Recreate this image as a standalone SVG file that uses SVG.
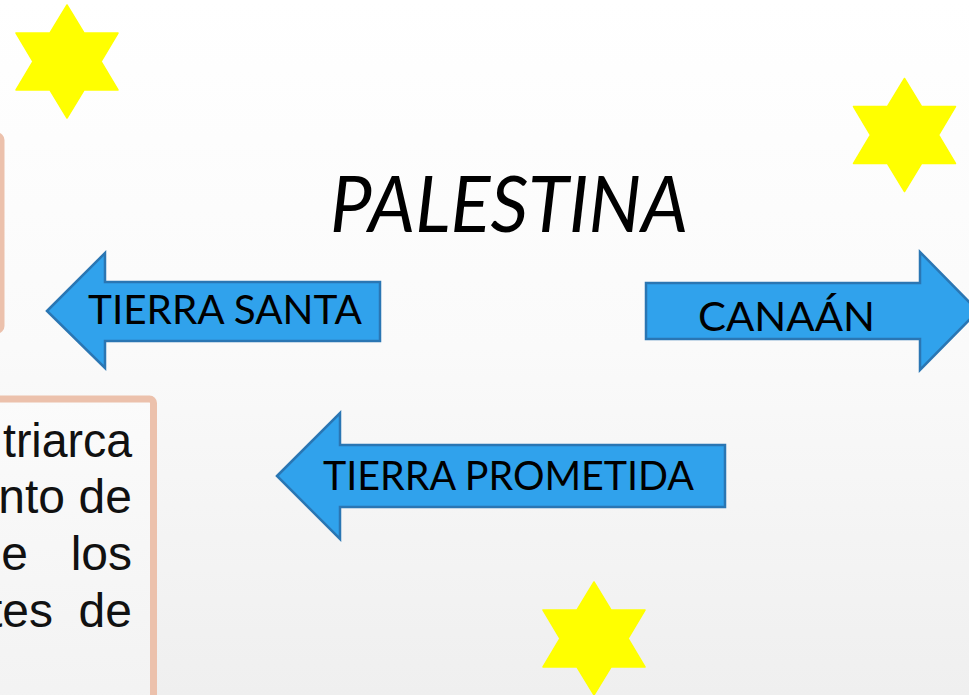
<svg xmlns="http://www.w3.org/2000/svg" width="969" height="695" viewBox="0 0 969 695">
  <defs>
    <linearGradient id="bg" x1="0" y1="0" x2="0" y2="1">
      <stop offset="0" stop-color="#ffffff"/>
      <stop offset="0.5" stop-color="#fafafa"/>
      <stop offset="1" stop-color="#efefef"/>
    </linearGradient>
    <linearGradient id="boxfill" x1="0" y1="0" x2="0" y2="1">
      <stop offset="0" stop-color="#fbfbfb"/>
      <stop offset="1" stop-color="#f0f0f0"/>
    </linearGradient>
    <polygon id="star" points="0,-56.5 17,-28.5 51,-28.5 34,0 51,28.5 17,28.5 0,56.5 -17,28.5 -51,28.5 -34,0 -51,-28.5 -17,-28.5"/>
    <style>
      .star { fill: #ffff00; stroke: #ffff00; stroke-width: 1.5; stroke-linejoin: round; }
      .box { fill: url(#boxfill); stroke: #ecc1ac; stroke-width: 7; }
      .arrow { fill: #30a2ec; stroke: #2a76b3; stroke-width: 2.5; stroke-linejoin: miter; }
      .lbl { font-family: Lato, "Open Sans", "Liberation Sans", sans-serif; font-size: 40px; fill: #000; }
      .title { font-family: Lato, "Open Sans", "Liberation Sans", sans-serif; font-size: 78px; font-style: italic; fill: #000; }
      .body { font-family: "Liberation Sans", Arial, sans-serif; font-size: 48px; fill: #111; }
    </style>
  </defs>

  <rect x="0" y="0" width="969" height="695" fill="url(#bg)"/>

  <g id="box-top-left">
    <rect class="box" x="-300" y="136" width="301" height="194" rx="4" stroke-width="6"/>
  </g>

  <g id="box-bottom-left">
    <rect class="box" x="-300" y="399" width="453.5" height="400" rx="4"/>
    <text class="body" x="132" y="457" text-anchor="end" textLength="129" lengthAdjust="spacingAndGlyphs">triarca</text>
    <text class="body" x="65" y="513" text-anchor="end">nto</text>
    <text class="body" x="132" y="513" text-anchor="end">de</text>
    <text class="body" x="28" y="570" text-anchor="end">e</text>
    <text class="body" x="132" y="570" text-anchor="end">los</text>
    <text class="body" x="53" y="627" text-anchor="end">tes</text>
    <text class="body" x="132" y="627" text-anchor="end">de</text>
  </g>

  <g id="star-top-left"><use href="#star" class="star" x="67" y="61.5"/></g>
  <g id="star-top-right"><use href="#star" class="star" x="904.5" y="135"/></g>
  <g id="star-bottom"><use href="#star" class="star" x="594" y="638.5"/></g>

  <g id="title">
    <text class="title" x="330" y="232" textLength="358" lengthAdjust="spacingAndGlyphs">PALESTINA</text>
  </g>

  <g id="arrow-tierra-santa">
    <path class="arrow" d="M47,311 L105,253 L105,282 L380,282 L380,341 L105,341 L105,368 Z"/>
    <text class="lbl" x="88" y="324" textLength="274" lengthAdjust="spacingAndGlyphs">TIERRA SANTA</text>
  </g>

  <g id="arrow-canaan">
    <path class="arrow" d="M646,283 L920,283 L920,252 L978,311 L920,370 L920,339 L646,339 Z"/>
    <text class="lbl" x="698" y="331" textLength="177" lengthAdjust="spacingAndGlyphs">CANAÁN</text>
  </g>

  <g id="arrow-tierra-prometida">
    <path class="arrow" d="M277,476 L340,413 L340,445 L725,445 L725,507 L340,507 L340,539 Z"/>
    <text class="lbl" x="323" y="490" textLength="371" lengthAdjust="spacingAndGlyphs">TIERRA PROMETIDA</text>
  </g>

  <g id="connectors"/>
</svg>
